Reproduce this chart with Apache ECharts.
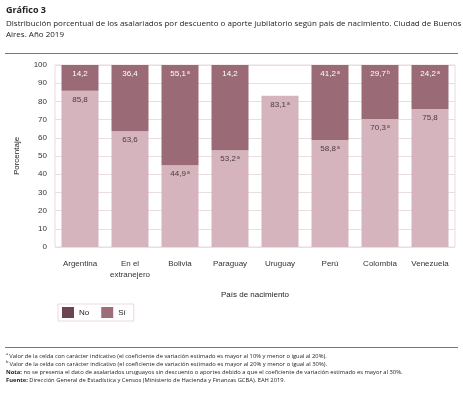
<!DOCTYPE html>
<html>
<head>
<meta charset="utf-8">
<script src="https://cdn.jsdelivr.net/npm/echarts@6/dist/echarts.min.js"></script>
<style>
  html, body { margin: 0; padding: 0; background: #fff; }
  #chart { width: 463px; height: 394px; }
</style>
</head>
<body>
<div id="chart"></div>
<script>
// datos
const categorias = ['Argentina', 'En el\nextranejero', 'Bolivia', 'Paraguay', 'Uruguay', 'Perú', 'Colombia', 'Venezuela'];
const valoresSi = [85.8, 63.6, 44.9, 53.2, 83.1, 58.8, 70.3, 75.8];
const valoresNo = [14.2, 36.4, 55.1, 46.8, null, 41.2, 29.7, 24.2];
// etiquetas tal como aparecen en el original (Paraguay "No" muestra 14,2)
const etiquetasSi = ['85,8', '63,6', '44,9', '53,2', '83,1', '58,8', '70,3', '75,8'];
const etiquetasNo = ['14,2', '36,4', '55,1', '14,2', '', '41,2', '29,7', '24,2'];
const notasSi = ['', '', 'a', 'a', 'a', 'a', 'a', ''];
const notasNo = ['', '', 'a', '', '', 'a', 'b', 'a'];
const yTicks = [0, 10, 20, 30, 40, 50, 60, 70, 80, 90, 100];

const FONT = '"Liberation Sans", Arial, sans-serif';
const TITLE_FONT = '"Open Sans", "Noto Sans", sans-serif';

const chart = echarts.init(document.getElementById('chart'));

const etiqueta = (textos, notas) => (p) => {
  const t = textos[p.dataIndex];
  const n = notas[p.dataIndex];
  return n ? `{v|${t}}{s|${n}}` : `{v|${t}}`;
};

chart.setOption({
  animation: false,
  textStyle: { fontFamily: FONT },
  grid: { left: 55, right: 8, top: 65, bottom: 147, show: true, borderColor: '#ead9df', borderWidth: 1 },
  xAxis: {
    type: 'category',
    data: categorias,
    axisLine: { show: false },
    axisTick: { show: false },
    axisLabel: { color: '#333', fontSize: 8, margin: 11, lineHeight: 11, interval: 0 },
    name: 'País de nacimiento',
    nameLocation: 'middle',
    nameGap: 44,
    nameTextStyle: { color: '#222', fontSize: 8 },
  },
  yAxis: {
    type: 'value',
    min: yTicks[0],
    max: yTicks[yTicks.length - 1],
    interval: 10,
    axisLine: { show: false },
    axisTick: { show: false },
    splitLine: { lineStyle: { color: '#ecdde2', width: 1 } },
    axisLabel: { color: '#333', fontSize: 8, margin: 8 },
    name: 'Porcentaje',
    nameLocation: 'middle',
    nameGap: 34,
    nameTextStyle: { color: '#222', fontSize: 8 },
  },
  legend: {
    left: 58,
    top: 304,
    icon: 'rect',
    itemWidth: 12,
    itemHeight: 11,
    itemGap: 12,
    padding: [3, 8, 3, 4],
    borderColor: '#ead9df',
    borderWidth: 1,
    textStyle: { color: '#222', fontSize: 8 },
    data: [
      { name: 'No', itemStyle: { color: '#6d4352' } },
      { name: 'Sí', itemStyle: { color: '#9d6e79' } },
    ],
  },
  series: [
    {
      name: 'Sí',
      type: 'bar',
      stack: 'total',
      barWidth: '74%',
      data: valoresSi,
      itemStyle: { color: '#d6b4bd' },
      label: {
        show: true,
        position: 'insideTop',
        distance: 5,
        formatter: etiqueta(etiquetasSi, notasSi),
        rich: {
          v: { color: '#4a3a40', fontSize: 8, fontFamily: FONT },
          s: { color: '#4a3a40', fontSize: 5, fontFamily: FONT, verticalAlign: 'top', padding: [0, 0, 3, 1] },
        },
      },
    },
    {
      name: 'No',
      type: 'bar',
      stack: 'total',
      barWidth: '74%',
      data: valoresNo,
      itemStyle: { color: '#9a6b76' },
      label: {
        show: true,
        position: 'insideTop',
        distance: 5,
        formatter: etiqueta(etiquetasNo, notasNo),
        rich: {
          v: { color: '#fff', fontSize: 8, fontFamily: FONT },
          s: { color: '#fff', fontSize: 5, fontFamily: FONT, verticalAlign: 'top', padding: [0, 0, 3, 1] },
        },
      },
    },
  ],
  graphic: [
    { type: 'text', left: 6, top: 6, style: { text: 'Gráfico 3', font: `bold 9px ${TITLE_FONT}`, fill: '#222' } },
    { type: 'text', left: 6, top: 18, style: { text: 'Distribución porcentual de los asalariados por descuento o aporte jubilatorio según país de nacimiento. Ciudad de Buenos\nAires. Año 2019', font: `8px ${TITLE_FONT}`, fill: '#222', lineHeight: 11 } },
    { type: 'line', shape: { x1: 5, y1: 53.5, x2: 458, y2: 53.5 }, style: { stroke: '#777', lineWidth: 1 } },
    { type: 'line', shape: { x1: 5, y1: 347.5, x2: 458, y2: 347.5 }, style: { stroke: '#777', lineWidth: 1 } },
    { type: 'text', left: 6, top: 352, style: {
      rich: {
        n: { font: `5.8px ${TITLE_FONT}`, fill: '#222', lineHeight: 8 },
        b: { font: `bold 5.8px ${TITLE_FONT}`, fill: '#222', lineHeight: 8 },
        sup: { font: `4px ${TITLE_FONT}`, fill: '#222', lineHeight: 8, verticalAlign: 'top', padding: [0, 0, 3, 0] },
      },
      text: '{sup|a }{n|Valor de la celda con carácter indicativo (el coeficiente de variación estimado es mayor al 10% y menor o igual al 20%).}\n' +
            '{sup|b }{n|Valor de la celda con carácter indicativo (el coeficiente de variación estimado es mayor al 20% y menor o igual al 30%).}\n' +
            '{b|Nota:}{n| no se presenta el dato de asalariados uruguayos sin descuento o aportes debido a que el coeficiente de variación estimado es mayor al 30%.}\n' +
            '{b|Fuente:}{n| Dirección General de Estadística y Censos (Ministerio de Hacienda y Finanzas GCBA). EAH 2019.}',
    } },
  ],
});
</script>
</body>
</html>
